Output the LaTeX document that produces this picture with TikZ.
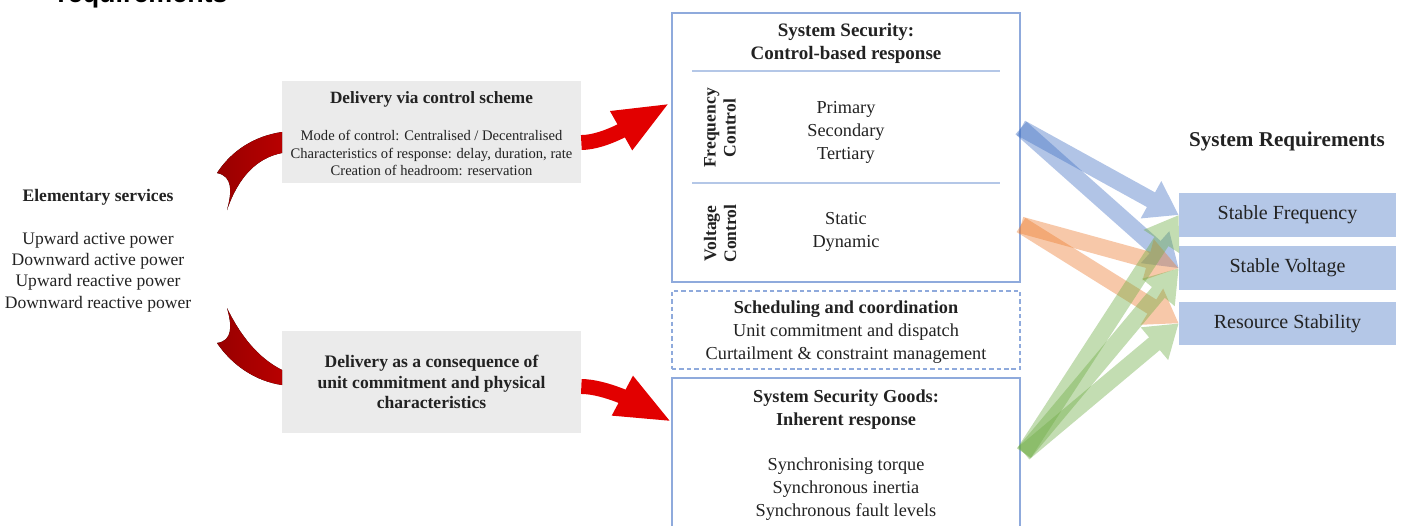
\documentclass[tikz,border=0pt]{standalone}
\usepackage{fontspec}
\setmainfont{Liberation Serif}
\newfontfamily\headfont{Liberation Sans}
\usepackage{tikz}
\usetikzlibrary{ arrows.meta, calc, positioning }
\definecolor{greyfill}{HTML}{EBEBEB}
\definecolor{frameblue}{HTML}{8FAADC}
\definecolor{lineblue}{HTML}{B4C7E7}
\definecolor{reqblue}{HTML}{B4C7E7}
\definecolor{darkred}{HTML}{980000}
\definecolor{brightred}{HTML}{E20000}
\definecolor{fblue}{HTML}{4472C4}
\definecolor{vorange}{HTML}{ED7D31}
\definecolor{igreen}{HTML}{70AD47}
\definecolor{txt}{HTML}{222222}
\tikzset{
every node/.style={inner sep=0pt, text=txt}, % text placed by hand
greybox/.style={fill=greyfill, minimum width=5.98cm, minimum height=2.04cm}, % delivery boxes
secbox/.style={draw=frameblue, line width=0.8pt, minimum width=6.96cm}, % frames in the middle
sepline/.style={draw=lineblue, line width=0.8pt},
req/.style={fill=reqblue, minimum width=4.34cm, minimum height=0.87cm, font=\fontsize{11.4}{13}\selectfont},
body/.style={align=center, font=\fontsize{10.4}{13.1}\selectfont},
redarrow/.style={brightred, line width=8.5pt, -{Triangle[length=32pt, width=23pt]}},
fat/.style={line width=9.5pt, -{Triangle[length=18pt, width=23pt]}}, % wide see-through arrows
}

\begin{document}
\begin{tikzpicture}[x=0.02cm, y=-0.02cm]
  \useasboundingbox (0,0) rectangle (1405,525);

  % heading cut off by the page edge
  \node[anchor=base west, text=black, font=\headfont\bfseries\fontsize{15.3}{18}\selectfont] (head) at (57,2) {requirements};

  % left column
  \node[font=\bfseries\fontsize{10}{12}\selectfont] (elem) at (98,197) {Elementary services};
  \node[align=center, font=\fontsize{10}{12.1}\selectfont] (elemlist) at (98,272)
    {Upward active power\\Downward active power\\Upward reactive power\\Downward reactive power};

  % delivery boxes
  \node[greybox] (dcs) at (431.5,132) {};
  \node[font=\bfseries\fontsize{9.8}{12}\selectfont] (dcstitle) at (431.5,99) {Delivery via control scheme};
  \node[align=center, font=\fontsize{8.3}{10.2}\selectfont] (dcsbody) at (431.5,153)
    {Mode of control: Centralised / Decentralised\\Characteristics of response: delay, duration, rate\\Creation of headroom: reservation};
  \node[greybox] (duc) at (431.5,381.5) {};
  \node[align=center, font=\bfseries\fontsize{10}{11.7}\selectfont] (ductext) at (431.5,382)
    {Delivery as a consequence of\\unit commitment and physical\\characteristics};

  % middle frames
  \node[secbox, minimum height=5.38cm] (ctrl) at (846,147.5) {};
  \node[secbox, dash pattern=on 2.5pt off 1.7pt, minimum height=1.56cm] (sched) at (846,330) {};
  \node[secbox, minimum height=3.64cm] (goods) at (846,469) {};
  \draw[sepline] (692,71) -- (1000,71);
  \draw[sepline] (692,183) -- (1000,183);

  \node[align=center, font=\bfseries\fontsize{10.8}{13.1}\selectfont] (ctrltitle) at (846,43)
    {System Security:\\Control-based response};
  \node[rotate=90, align=center, font=\bfseries\fontsize{10}{11.4}\selectfont] (flab) at (720,128) {Frequency\\Control};
  \node[body] (flist) at (846,132) {Primary\\Secondary\\Tertiary};
  \node[rotate=90, align=center, font=\bfseries\fontsize{10}{11.4}\selectfont] (vlab) at (720,233.5) {Voltage\\Control};
  \node[body] (vlist) at (846,231.5) {Static\\Dynamic};

  \node[body] (schedtext) at (846,332)
    {\textbf{Scheduling and coordination}\\Unit commitment and dispatch\\Curtailment \& constraint management};
  \node[body] (goodstext) at (846,455)
    {\textbf{System Security Goods:}\\\textbf{Inherent response}\\[12.5pt]Synchronising torque\\Synchronous inertia\\Synchronous fault levels};

  % right column
  \node[font=\bfseries\fontsize{12}{14}\selectfont] (reqtitle) at (1287,141) {System Requirements};
  \node[req] (sf) at (1287.5,215) {Stable Frequency};
  \node[req, below=0.18cm of sf] (sv) {Stable Voltage};
  \node[req, below=0.22cm of sv] (rs) {Resource Stability};

  % red curved arrows, running behind the grey boxes
  \fill[left color=darkred, right color=red!72!black]
    (217,173) .. controls (232,150) and (255,136) .. (282,132) -- (282,153)
    .. controls (256,158) and (238,178) .. (227,210)
    .. controls (232,192) and (233,176) .. (217,173) -- cycle;
  \fill[left color=darkred, right color=red!72!black]
    (227,308) .. controls (240,335) and (258,358) .. (282,370) -- (282,385)
    .. controls (255,381) and (232,365) .. (217,343)
    .. controls (233,341) and (232,325) .. (227,308) -- cycle;
  \coordinate (tipA) at (670,103);
  \coordinate (tipB) at (672,422);
  \draw[redarrow] ([yshift=-0.21cm]dcs.east) .. controls +(25,0) and +(-30,17) .. (tipA);
  \draw[redarrow] ([yshift=-0.1cm]duc.east) .. controls +(25,0) and +(-32,-17) .. (tipB);

  % wide arrows to the requirements
  \coordinate (fc) at (1021,128);
  \coordinate (vc) at (1021,225);
  \coordinate (ig) at (1024,453);
  \foreach \from/\to/\col in {fc/sf/fblue, fc/sv/fblue, vc/sv/vorange, vc/rs/vorange,
                              ig/sf/igreen, ig/sv/igreen, ig/rs/igreen}{
    \begin{scope}[transparency group, opacity=0.42]
      \draw[fat, \col] (\from) -- (\to.west);
    \end{scope}
  }
\end{tikzpicture}
\end{document}
